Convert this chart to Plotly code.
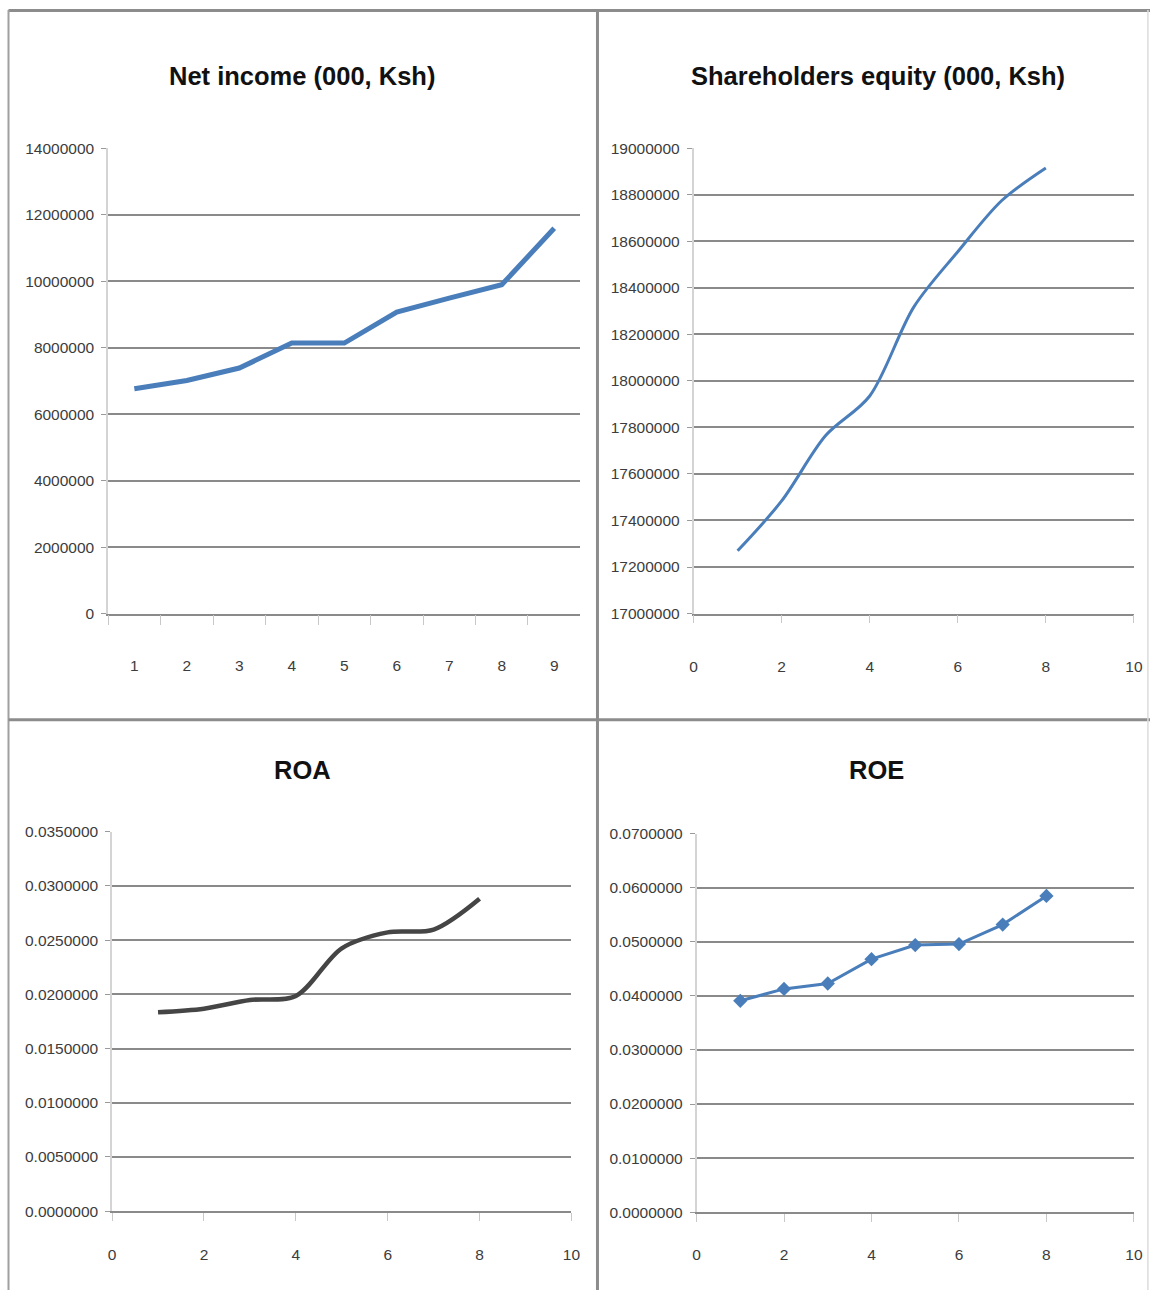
import plotly.graph_objects as go

# ---- data ----
net_income_years = ["1", "2", "3", "4", "5", "6", "7", "8", "9"]
net_income = [6760000, 7010000, 7385000, 8135000, 8135000, 9070000, 9490000, 9890000, 11590000]

equity_x = [1, 2, 3, 4, 5, 6, 7, 8]
equity = [17270000, 17484000, 17765000, 17935000, 18317000, 18555000, 18775000, 18915000]

roa_x = [1, 2, 3, 4, 5, 6, 7, 8]
roa = [0.01835, 0.01868, 0.01948, 0.01985, 0.02425, 0.02572, 0.02598, 0.02882]

roe_x = [1, 2, 3, 4, 5, 6, 7, 8]
roe = [0.0391, 0.0413, 0.0423, 0.0468, 0.0494, 0.0496, 0.0532, 0.0585]

titles = ["Net income (000, Ksh)", "Shareholders equity (000, Ksh)", "ROA", "ROE"]

W, H = 1160, 1300

# layout is specified in on-screen pixels; these convert them to paper fractions
SX, OX = 0.988, 4.0
SY, OY = 0.986, 9.0


def xp(px):
    return ((px - OX) / SX) / W


def yp(py):
    return 1 - ((py - OY) / SY) / H


BLUE = "#4a7ebb"
GRID = "#8a8a8a"
TICKTXT = "#3c3c3c"
FONT = "Liberation Sans, Arial, sans-serif"

fig = go.Figure()

fig.add_trace(go.Scatter(x=net_income_years, y=net_income, mode="lines",
                         line=dict(color=BLUE, width=5), xaxis="x", yaxis="y",
                         showlegend=False))
fig.add_trace(go.Scatter(x=equity_x, y=equity, mode="lines",
                         line=dict(color=BLUE, width=3, shape="spline", smoothing=0.9),
                         xaxis="x2", yaxis="y2", showlegend=False))
fig.add_trace(go.Scatter(x=roa_x, y=roa, mode="lines",
                         line=dict(color="#454545", width=4.5, shape="spline", smoothing=0.9),
                         xaxis="x3", yaxis="y3", showlegend=False))
fig.add_trace(go.Scatter(x=roe_x, y=roe, mode="lines+markers",
                         line=dict(color=BLUE, width=3),
                         marker=dict(symbol="diamond", size=11, color=BLUE),
                         xaxis="x4", yaxis="y4", showlegend=False))

tickfont = dict(family=FONT, size=15.5, color=TICKTXT)


def yax(domain, rng, dtick, fmt, anchor):
    return dict(domain=domain, range=rng, dtick=dtick, tick0=rng[0], tickformat=fmt,
                showgrid=True, gridcolor=GRID, gridwidth=1.5,
                showline=True, linecolor="#d4d4d4", linewidth=1.5,
                ticks="outside", ticklen=5, tickcolor="#9a9a9a", tickwidth=1.2,
                zeroline=False, tickfont=tickfont, anchor=anchor,
                ticklabelstandoff=4, fixedrange=True)


def xax_linear(domain, anchor, standoff):
    return dict(domain=domain, range=[0, 10], dtick=2, tick0=0,
                showgrid=False, showline=True, linecolor=GRID, linewidth=1.5,
                ticks="outside", ticklen=8, tickcolor="#c8c8c8", tickwidth=1.2,
                zeroline=False, tickfont=tickfont, anchor=anchor,
                ticklabelstandoff=standoff, fixedrange=True)


layout = dict(
    width=W, height=H, autosize=False,
    margin=dict(l=0, r=0, t=0, b=0),
    paper_bgcolor="white", plot_bgcolor="white",
    xaxis=dict(domain=[xp(108), xp(580)], type="category", tickson="boundaries",
               range=[-0.5, len(net_income_years) - 0.5],
               showgrid=False, showline=True, linecolor=GRID, linewidth=1.5,
               ticks="outside", ticklen=10, tickcolor="#c8c8c8", tickwidth=1.2,
               tickfont=tickfont, anchor="y", ticklabelstandoff=37, fixedrange=True),
    yaxis=yax([yp(613), yp(148)], [0, 14000000], 2000000, "d", "x"),
    xaxis2=xax_linear([xp(693), xp(1133)], "y2", 30),
    yaxis2=yax([yp(613), yp(148)], [17000000, 19000000], 200000, "d", "x2"),
    xaxis3=xax_linear([xp(112), xp(571)], "y3", 21),
    yaxis3=yax([yp(1210), yp(831)], [0, 0.035], 0.005, ".7f", "x3"),
    xaxis4=xax_linear([xp(696), xp(1133)], "y4", 20),
    yaxis4=yax([yp(1211), yp(833)], [0, 0.07], 0.01, ".7f", "x4"),
)

title_pos = [(302, 76), (877, 76), (302, 769), (876, 769)]
annotations = []
for t, (cx, cy) in zip(titles, title_pos):
    annotations.append(dict(text=t, x=xp(cx), y=yp(cy), xref="paper", yref="paper",
                            xanchor="center", yanchor="middle", showarrow=False,
                            font=dict(family=FONT, size=25.5, color="#111111", weight="bold")))
layout["annotations"] = annotations

# panel frame lines
BORDER = "#8c8c8c"
shapes = [
    dict(type="line", x0=xp(8.5), x1=1, y0=yp(10.5), y1=yp(10.5), line=dict(color=BORDER, width=3)),
    dict(type="line", x0=xp(8.5), x1=xp(8.5), y0=yp(10), y1=0, line=dict(color="#a0a0a0", width=2)),
    dict(type="line", x0=xp(597), x1=xp(597), y0=yp(10), y1=0, line=dict(color=BORDER, width=3)),
    dict(type="line", x0=xp(8.5), x1=1, y0=yp(719), y1=yp(719), line=dict(color=BORDER, width=3)),
    dict(type="line", x0=xp(1147), x1=xp(1147), y0=yp(10), y1=0, line=dict(color="#dcdcdc", width=1.5)),
]
for s in shapes:
    s.update(xref="paper", yref="paper", layer="above")
layout["shapes"] = shapes

fig.update_layout(**layout)
fig.write_html("out.html")
